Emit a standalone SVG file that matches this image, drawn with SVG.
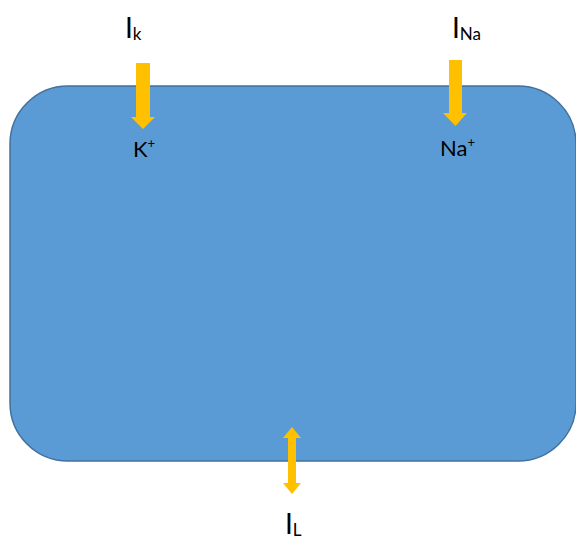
<svg xmlns="http://www.w3.org/2000/svg" width="576" height="542" viewBox="0 0 576 542">
<style>
.lbl{font-family:Lato,"Open Sans","Liberation Sans",sans-serif;fill:#000}
.big{font-size:28px}
.sub{font-size:17px}
.ion{font-size:22px}
.arr{fill:#ffc000}
</style>
<rect width="576" height="542" fill="#ffffff"/>
<g id="cell">
<rect x="10" y="86" width="566" height="375" rx="58" ry="58" fill="#5b9bd5" stroke="#41719c" stroke-width="1.5"/>
</g>
<g id="connectors">
<path class="arr" d="M136,63 H150 V117 H155 L143,129 L131,117 H136 Z"/>
<path class="arr" d="M449,60 H462 V113 H467 L455.5,126 L443,113 H449 Z"/>
<path class="arr" d="M292,427 L301,438 H296 V483 H301 L292,494 L283,483 H288 V438 H283 Z"/>
</g>
<g id="label-ik">
<text class="lbl big" x="125" y="38">I<tspan class="sub" dy="2">k</tspan></text>
</g>
<g id="label-ina">
<text class="lbl big" x="452" y="38">I<tspan class="sub" dy="2">Na</tspan></text>
</g>
<g id="label-kplus">
<text class="lbl ion" x="133" y="157">K<tspan font-size="13" dy="-9">+</tspan></text>
</g>
<g id="label-naplus">
<text class="lbl ion" x="440" y="156">Na<tspan font-size="13" dy="-9">+</tspan></text>
</g>
<g id="label-il">
<text class="lbl big" x="285" y="534">I<tspan class="sub" dy="2">L</tspan></text>
</g>
</svg>
